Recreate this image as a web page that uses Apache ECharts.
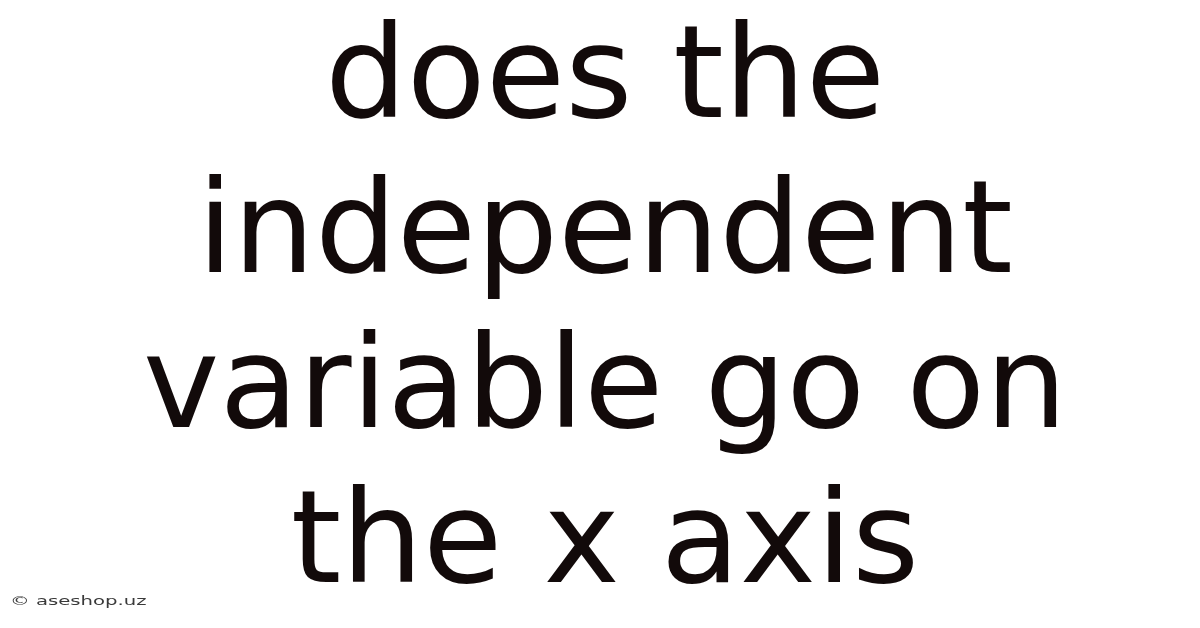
<!DOCTYPE html>
<html>
<head>
<meta charset="utf-8">
<title>does the independent variable go on the x axis</title>
<script src="https://cdn.jsdelivr.net/npm/echarts@6/dist/echarts.min.js"></script>
<style>
  html, body { margin: 0; padding: 0; background: #ffffff; }
  #main { width: 1200px; height: 628px; }
</style>
</head>
<body>
<div id="main"></div>
<script>
// text shown in the picture
var headlineLines = ["does the", "independent", "variable go on", "the x axis"];
var watermarkText = "\u00a9 aseshop.uz";

var myChart = echarts.init(document.getElementById("main"));

// layout of the big headline
var firstBaseline = 119;
var lineGap = 155.3;
var fontSize = 129;

var graphics = headlineLines.map(function (line, i) {
  return {
    type: "text",
    x: 605,
    y: firstBaseline + i * lineGap - 36,
    style: {
      text: line,
      font: "normal " + fontSize + "px 'DejaVu Sans'",
      fill: "#120a0a",
      align: "center",
      verticalAlign: "middle",
    },
  };
});

// small stretched watermark, bottom left
graphics.push({
  type: "text",
  x: 10,
  y: 602,
  scaleX: 1.64,
  style: {
    text: watermarkText,
    font: "normal 12px 'DejaVu Sans'",
    fill: "#3a3a3a",
    align: "left",
    verticalAlign: "middle",
  },
});

var option = {
  backgroundColor: "#ffffff",
  graphic: graphics,
};

myChart.setOption(option);
</script>
</body>
</html>
